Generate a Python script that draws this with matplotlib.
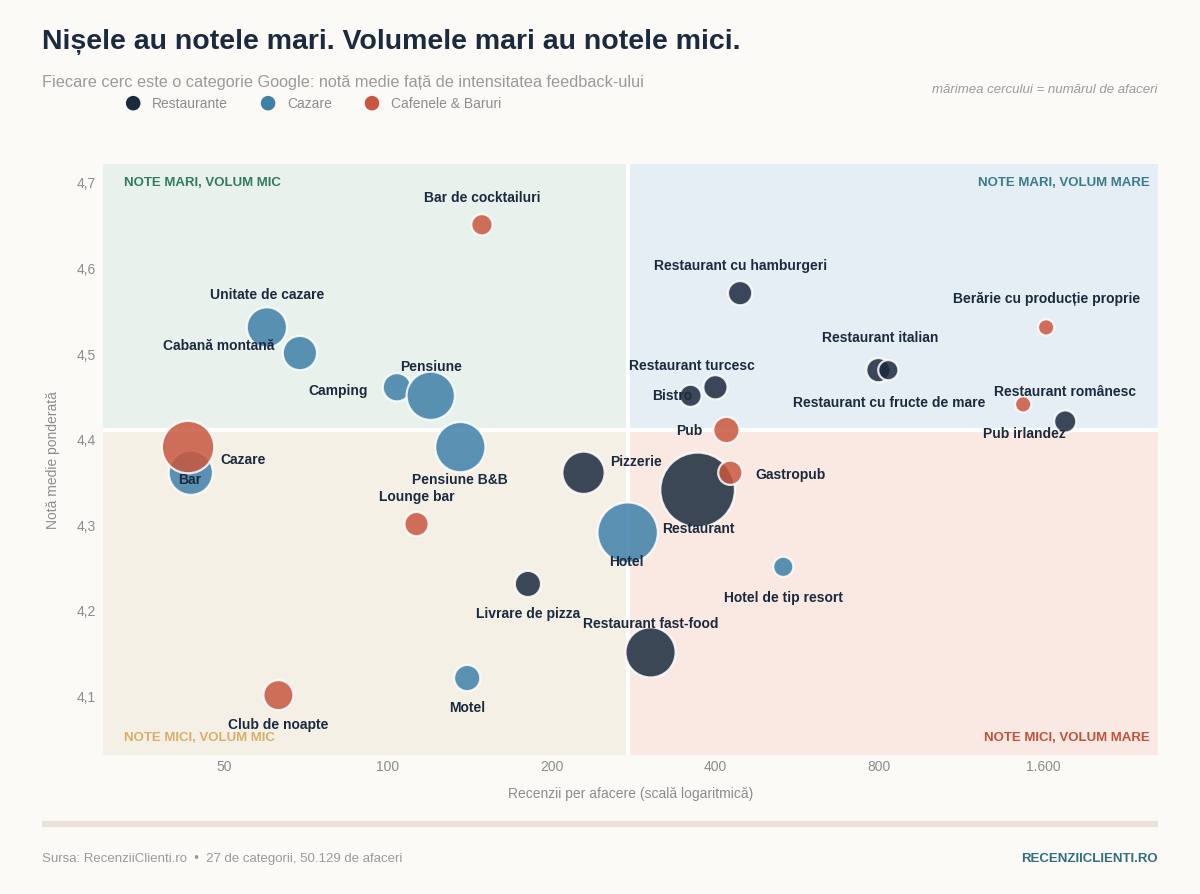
import matplotlib
matplotlib.use("Agg")
import matplotlib.pyplot as plt
from matplotlib.ticker import FixedLocator, FixedFormatter, NullLocator

plt.rcParams["font.family"] = ["Liberation Sans", "DejaVu Sans"]

# --- data ---------------------------------------------------------------
groups = ["Restaurante", "Cazare", "Cafenele & Baruri"]

rest_names = ["Restaurant cu hamburgeri", "Restaurant italian", "Restaurant cu fructe de mare",
              "Restaurant turcesc", "Bistro", "Restaurant românesc", "Pizzerie", "Restaurant",
              "Livrare de pizza", "Restaurant fast-food"]
rest_reviews = [444, 797, 831, 400, 360, 1756, 229, 371, 181, 304]
rest_rating = [4.57, 4.48, 4.48, 4.46, 4.45, 4.42, 4.36, 4.34, 4.23, 4.15]
rest_count = [780, 780, 540, 780, 650, 650, 2380, 7400, 910, 3350]

caz_names = ["Unitate de cazare", "Cabană montană", "Camping", "Pensiune", "Pensiune B&B",
             "Cazare", "Hotel", "Hotel de tip resort", "Motel"]
caz_reviews = [60, 69, 104, 120, 136, 43.5, 276, 533, 140]
caz_rating = [4.53, 4.50, 4.46, 4.45, 4.39, 4.36, 4.29, 4.25, 4.12]
caz_count = [2150, 1560, 1060, 3100, 3350, 2600, 4850, 540, 910]

bar_names = ["Bar de cocktailuri", "Berărie cu producție proprie", "Pub irlandez", "Pub",
             "Gastropub", "Lounge bar", "Club de noapte", "Bar"]
bar_reviews = [149, 1620, 1470, 419, 426, 113, 63, 43]
bar_rating = [4.65, 4.53, 4.44, 4.41, 4.36, 4.30, 4.10, 4.39]
bar_count = [600, 350, 350, 910, 780, 780, 1200, 3650]

x_ticks = [50, 100, 200, 400, 800, 1600]
x_tick_labels = ["50", "100", "200", "400", "800", "1.600"]
y_ticks = [4.1, 4.2, 4.3, 4.4, 4.5, 4.6, 4.7]
y_tick_labels = ["4,1", "4,2", "4,3", "4,4", "4,5", "4,6", "4,7"]

split_x = 276   # median reviews per business
split_y = 4.41  # weighted average rating

# label offsets in pixels (dx, dy), dy positive = up
rest_offsets = [(0, 28), (2, 33), (1, -32), (-24, 22), (-18, 1), (0, 30), (52, 12), (1, -38), (0, -29), (0, 29)]
caz_offsets = [(0, 33), (-81, 8), (-59, -3), (0, 30), (0, -32), (52, 14), (-1, -28), (0, -30), (0, -29)]
bar_offsets = [(0, 28), (0, 29), (1, -29), (-37, 0), (60, -1), (0, 28), (0, -29), (2, -32)]

# --- style --------------------------------------------------------------
BG = "#fbfaf6"
INK = "#1b2a3e"
GREY = "#8c8c8c"
colors = ["#1b2a3e", "#3f7fa8", "#c9573f"]

fig = plt.figure(figsize=(12, 8.95), dpi=100, facecolor=BG)
ax = fig.add_axes([0.0858, 0.1553, 0.8792, 0.6603])
ax.set_facecolor(BG)
ax.set_xscale("log")
xmin, xmax = 30, 2600
ymin, ymax = 4.03, 4.721
ax.set_xlim(xmin, xmax)
ax.set_ylim(ymin, ymax)

# quadrants
ax.fill_between([xmin, split_x], split_y, ymax, color="#e8f1ec", zorder=0, lw=0)
ax.fill_between([split_x, xmax], split_y, ymax, color="#e4eef4", zorder=0, lw=0)
ax.fill_between([xmin, split_x], ymin, split_y, color="#f5f0e6", zorder=0, lw=0)
ax.fill_between([split_x, xmax], ymin, split_y, color="#fae9e2", zorder=0, lw=0)
ax.axvline(split_x, color="white", lw=3, zorder=1)
ax.axhline(split_y, color="white", lw=3, zorder=1)

qkw = dict(fontsize=9.5, fontweight="bold", transform=ax.transAxes, va="center")
ax.text(0.02, 0.97, "NOTE MARI, VOLUM MIC", color="#2e7d5b", ha="left", **qkw)
ax.text(0.992, 0.97, "NOTE MARI, VOLUM MARE", color="#3a7a8c", ha="right", **qkw)
ax.text(0.02, 0.03, "NOTE MICI, VOLUM MIC", color="#d8ae6a", ha="left", **qkw)
ax.text(0.992, 0.03, "NOTE MICI, VOLUM MARE", color="#c0513a", ha="right", **qkw)

series = [
    (rest_names, rest_reviews, rest_rating, rest_count, rest_offsets),
    (caz_names, caz_reviews, caz_rating, caz_count, caz_offsets),
    (bar_names, bar_reviews, bar_rating, bar_count, bar_offsets),
]

size_scale = 0.39
for (names, xs, ys, cnt, offs), col, grp in zip(series, colors, groups):
    ax.scatter(xs, ys, s=[c * size_scale for c in cnt], color=col, alpha=0.85,
               edgecolor="white", linewidth=1.6, zorder=3, label=grp)

for names, xs, ys, cnt, offs in series:
    for name, x, y, (dx, dy) in zip(names, xs, ys, offs):
        ax.annotate(name, (x, y), xytext=(dx * 0.72, dy * 0.72), textcoords="offset points",
                    ha="center", va="center", fontsize=10, fontweight="bold", color=INK, zorder=5)

for s in ax.spines.values():
    s.set_visible(False)
ax.xaxis.set_major_locator(FixedLocator(x_ticks))
ax.xaxis.set_major_formatter(FixedFormatter(x_tick_labels))
ax.xaxis.set_minor_locator(NullLocator())
ax.set_yticks(y_ticks)
ax.set_yticklabels(y_tick_labels)
ax.tick_params(length=0, labelsize=10, labelcolor=GREY)
ax.tick_params(axis="x", pad=3)
ax.tick_params(axis="y", pad=5)
ax.set_xlabel("Recenzii per afacere (scală logaritmică)", fontsize=10, color=GREY, labelpad=9)
ax.set_ylabel("Notă medie ponderată", fontsize=10, color=GREY, labelpad=12)

# header
fig.text(0.035, 0.953, "Nișele au notele mari. Volumele mari au notele mici.", fontsize=20.5,
         fontweight="bold", color=INK, va="center")
fig.text(0.035, 0.908, "Fiecare cerc este o categorie Google: notă medie față de intensitatea feedback-ului",
         fontsize=11.7, color="#9a9a9a", va="center")
fig.text(0.965, 0.899, "mărimea cercului = numărul de afaceri", fontsize=9.5, style="italic",
         color="#9a9a9a", ha="right", va="center")

leg = fig.legend(loc="center left", bbox_to_anchor=(0.089, 0.884), ncol=3, frameon=False,
                 fontsize=10, labelcolor=GREY, handletextpad=0.35, columnspacing=1.9,
                 markerscale=1.0)
for h in leg.legend_handles:
    h.set_sizes([110])
    h.set_alpha(1)
    h.set_edgecolor("none")

# footer
fig.add_artist(plt.Line2D([0.035, 0.965], [0.078, 0.078], transform=fig.transFigure,
                          color="#e8e3d6", lw=4.5, solid_capstyle="butt"))
fig.text(0.035, 0.040, "Sursa: RecenziiClienti.ro  •  27 de categorii, 50.129 de afaceri",
         fontsize=9.5, color="#9a9a9a", va="center")
fig.text(0.965, 0.040, "RECENZIICLIENTI.RO", fontsize=9.5, fontweight="bold",
         color="#2f6f7f", ha="right", va="center")

fig.savefig("out.png", dpi=100, facecolor=BG)
